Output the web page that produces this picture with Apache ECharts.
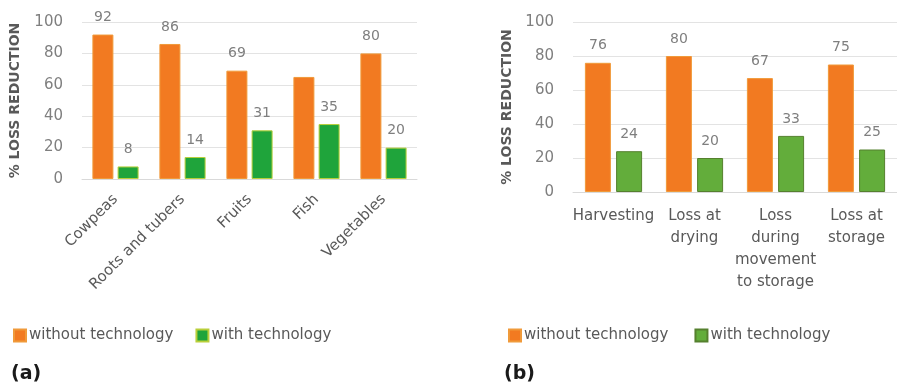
<!DOCTYPE html>
<html>
<head>
<meta charset="utf-8">
<script src="https://cdn.jsdelivr.net/npm/echarts@6/dist/echarts.min.js"></script>
<style>
  html, body { margin: 0; padding: 0; background: #ffffff; }
  #wrap { position: relative; width: 897px; height: 390px; overflow: hidden; }
  #chartA { position: absolute; left: 0; top: 0; width: 450px; height: 390px; }
  #chartB { position: absolute; left: 450px; top: 0; width: 447px; height: 390px; }
</style>
</head>
<body>
<div id="wrap">
  <div id="chartA"></div>
  <div id="chartB"></div>
</div>
<script>
// Panel (a): loss reduction by commodity
const commoditiesA = ['Cowpeas', 'Roots and tubers', 'Fruits', 'Fish', 'Vegetables'];
const withoutTechA = [92, 86, 69, 65, 80];
const withTechA = [8, 14, 31, 35, 20];
// the Fish "without technology" bar carries no value label
const hiddenLabelA = ['Fish'];

// Panel (b): loss reduction by stage
const stagesB = ['Harvesting', 'Loss at\ndrying', 'Loss\nduring\nmovement\nto storage', 'Loss at\nstorage'];
const withoutTechB = [76, 80, 67, 75];
const withTechB = [24, 20, 33, 25];

const yTicks = { min: 0, max: 100, interval: 20 };
const seriesNames = ['without technology', 'with technology'];

const FONT = '"DejaVu Sans", sans-serif';
const GREY = '#7f7f7f';
const ORANGE = '#F27A21';

function buildOption(cfg) {
  const labelStyle = {
    show: true, position: 'top', distance: 10,
    color: GREY, fontSize: 14, fontFamily: FONT
  };
  const mkData = (vals, hidden) => vals.map((v, i) =>
    hidden && hidden.indexOf(cfg.categories[i]) >= 0
      ? { value: v, label: { show: false } }
      : v);
  return {
    animation: false,
    backgroundColor: '#ffffff',
    textStyle: { fontFamily: FONT },
    grid: { left: cfg.gridLeft, top: cfg.gridTop, width: cfg.gridWidth, height: cfg.gridHeight },
    legend: {
      left: cfg.legendLeft, top: 323,
      itemWidth: 12, itemHeight: 12, itemGap: cfg.legendGap,
      icon: 'rect',
      textStyle: { color: '#595959', fontSize: 15, fontFamily: FONT, padding: [0, 0, 0, -2] },
      data: seriesNames
    },
    xAxis: {
      type: 'category',
      data: cfg.categories,
      axisLine: { lineStyle: { color: '#d9d9d9' } },
      axisTick: { show: false },
      axisLabel: Object.assign({
        color: '#595959', fontSize: 15, fontFamily: FONT, interval: 0
      }, cfg.xLabel)
    },
    yAxis: {
      type: 'value',
      min: yTicks.min, max: yTicks.max, interval: yTicks.interval,
      name: '% LOSS REDUCTION',
      nameLocation: 'middle',
      nameGap: cfg.nameGap,
      nameTextStyle: { color: '#595959', fontSize: 14, fontWeight: 'bold', fontFamily: FONT },
      axisLine: { show: false },
      axisTick: { show: false },
      axisLabel: { color: GREY, fontSize: 15, fontFamily: FONT, margin: 19 },
      splitLine: { lineStyle: { color: '#e3e3e3' } }
    },
    graphic: [{
      type: 'text', left: cfg.tagLeft, top: 365,
      style: { text: cfg.tag, fontSize: 19, fontWeight: 'bold', fill: '#1a1a1a', fontFamily: FONT }
    }],
    series: [
      {
        name: seriesNames[0], type: 'bar',
        data: mkData(cfg.without, cfg.hidden),
        barWidth: cfg.barWidth, barGap: cfg.barGap,
        itemStyle: { color: ORANGE, borderColor: '#f09a3a', borderWidth: 1 },
        label: labelStyle
      },
      {
        name: seriesNames[1], type: 'bar',
        data: mkData(cfg.with, null),
        barWidth: cfg.barWidth, barGap: cfg.barGap,
        itemStyle: { color: cfg.green, borderColor: cfg.greenBorder, borderWidth: 1 },
        label: labelStyle
      }
    ]
  };
}

const chartA = echarts.init(document.getElementById('chartA'), null, { renderer: 'canvas' });
chartA.setOption(buildOption({
  categories: commoditiesA,
  without: withoutTechA, with: withTechA, hidden: hiddenLabelA,
  gridLeft: 80, gridTop: 22, gridWidth: 337, gridHeight: 157,
  nameGap: 60,
  barWidth: 21, barGap: '20%',
  green: '#1FA43B', greenBorder: '#b9cf3a',
  xLabel: { rotate: 45, margin: 18 },
  legendLeft: 8, legendGap: 22,
  tag: '(a)', tagLeft: 11
}));

const chartB = echarts.init(document.getElementById('chartB'), null, { renderer: 'canvas' });
chartB.setOption(buildOption({
  categories: stagesB,
  without: withoutTechB, with: withTechB, hidden: null,
  gridLeft: 123, gridTop: 22, gridWidth: 328, gridHeight: 170,
  nameGap: 57,
  barWidth: 26, barGap: '20%',
  green: '#63AD3B', greenBorder: '#55802e',
  xLabel: { rotate: 0, margin: 13, lineHeight: 22 },
  legendLeft: 53, legendGap: 26,
  tag: '(b)', tagLeft: 54
}));
</script>
</body>
</html>
